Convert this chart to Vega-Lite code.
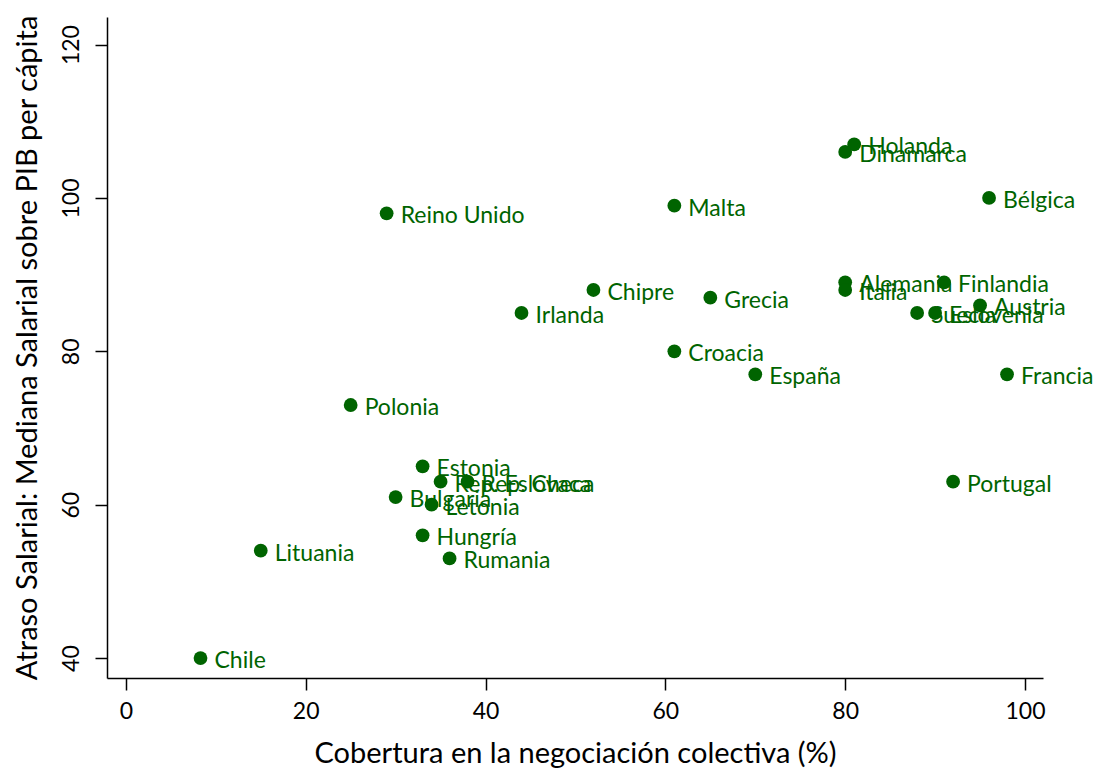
{
  "$schema": "https://vega.github.io/schema/vega-lite/v6.json",
  "width": 936,
  "height": 661,
  "autosize": {"type": "none"},
  "padding": {"left": 107, "top": 17, "right": 54, "bottom": 98},
  "background": "white",
  "config": {
    "view": {"stroke": null},
    "axis": {
      "grid": false,
      "domainColor": "black",
      "domainWidth": 1.5,
      "tickColor": "black",
      "tickWidth": 1.5,
      "tickSize": 12,
      "labelFont": "Lato",
      "labelFontSize": 23,
      "labelColor": "black",
      "titleFont": "Lato",
      "titleFontSize": 29,
      "titleFontWeight": "normal",
      "titleColor": "black"
    }
  },
  "data": {
    "values": [
      {"pais": "Chile", "cob": 8.3, "atraso": 40},
      {"pais": "Lituania", "cob": 15, "atraso": 54},
      {"pais": "Polonia", "cob": 25, "atraso": 73},
      {"pais": "Reino Unido", "cob": 29, "atraso": 98},
      {"pais": "Bulgaria", "cob": 30, "atraso": 61},
      {"pais": "Estonia", "cob": 33, "atraso": 65},
      {"pais": "Hungría", "cob": 33, "atraso": 56},
      {"pais": "Letonia", "cob": 34, "atraso": 60},
      {"pais": "Rep. Eslovaca", "cob": 35, "atraso": 63},
      {"pais": "Rep. Checa", "cob": 38, "atraso": 63},
      {"pais": "Rumania", "cob": 36, "atraso": 53},
      {"pais": "Irlanda", "cob": 44, "atraso": 85},
      {"pais": "Chipre", "cob": 52, "atraso": 88},
      {"pais": "Malta", "cob": 61, "atraso": 99},
      {"pais": "Croacia", "cob": 61, "atraso": 80},
      {"pais": "Grecia", "cob": 65, "atraso": 87},
      {"pais": "España", "cob": 70, "atraso": 77},
      {"pais": "Holanda", "cob": 81, "atraso": 107},
      {"pais": "Dinamarca", "cob": 80, "atraso": 106},
      {"pais": "Alemania", "cob": 80, "atraso": 89},
      {"pais": "Italia", "cob": 80, "atraso": 88},
      {"pais": "Finlandia", "cob": 91, "atraso": 89},
      {"pais": "Suecia", "cob": 88, "atraso": 85},
      {"pais": "Eslovenia", "cob": 90, "atraso": 85},
      {"pais": "Austria", "cob": 95, "atraso": 86},
      {"pais": "Bélgica", "cob": 96, "atraso": 100},
      {"pais": "Francia", "cob": 98, "atraso": 77},
      {"pais": "Portugal", "cob": 92, "atraso": 63}
    ]
  },
  "encoding": {
    "x": {
      "field": "cob",
      "type": "quantitative",
      "scale": {"domain": [-2.1, 102], "nice": false, "zero": false},
      "axis": {"values": [0, 20, 40, 60, 80, 100], "title": "Cobertura en la negociación colectiva (%)", "labelPadding": 10, "titlePadding": 16}
    },
    "y": {
      "field": "atraso",
      "type": "quantitative",
      "scale": {"domain": [37.4, 123.6], "nice": false, "zero": false},
      "axis": {"values": [40, 60, 80, 100, 120], "title": "Atraso Salarial: Mediana Salarial sobre PIB per cápita", "labelAngle": -90, "labelAlign": "center", "labelBaseline": "bottom", "labelPadding": 12, "titlePadding": 18}
    }
  },
  "layer": [
    {
      "mark": {"type": "point", "filled": true, "shape": "circle", "size": 190, "color": "#006400", "opacity": 1}
    },
    {
      "mark": {"type": "text", "align": "left", "baseline": "middle", "dx": 14, "dy": 3, "font": "Lato", "fontSize": 23, "color": "#006400"},
      "encoding": {"text": {"field": "pais"}}
    }
  ]
}
